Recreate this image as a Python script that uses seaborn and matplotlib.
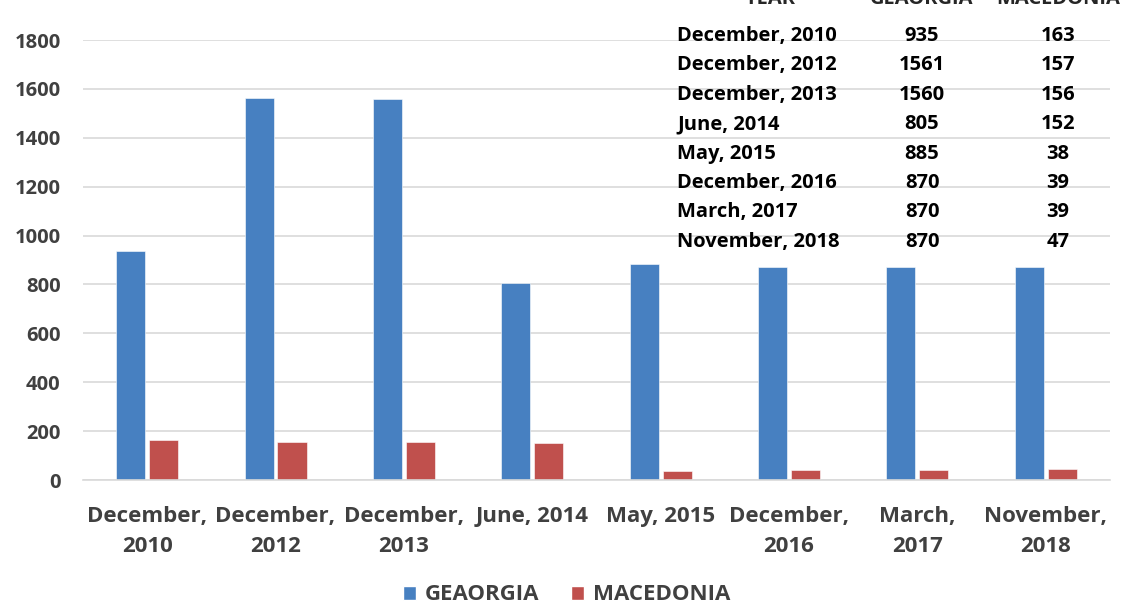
import numpy as np
import pandas as pd
import matplotlib.pyplot as plt
import seaborn as sns
from matplotlib.patches import Patch

# data
periods = ['December, 2010', 'December, 2012', 'December, 2013', 'June, 2014',
           'May, 2015', 'December, 2016', 'March, 2017', 'November, 2018']
tick_labels = ['December,\n2010', 'December,\n2012', 'December,\n2013', 'June, 2014',
               'May, 2015', 'December,\n2016', 'March,\n2017', 'November,\n2018']
georgia = [935, 1561, 1560, 805, 885, 870, 870, 870]
macedonia = [163, 157, 156, 152, 38, 39, 39, 47]
series = ['GEAORGIA', 'MACEDONIA']
colors = ['#4780C1', '#C0504D']

df = pd.DataFrame({'period': periods * 2,
                   'value': georgia + macedonia,
                   'country': [series[0]] * len(periods) + [series[1]] * len(periods)})

sns.set_style('white')
plt.rcParams['font.family'] = ['Open Sans', 'DejaVu Sans']
plt.rcParams['font.weight'] = 'bold'

fig = plt.figure(figsize=(11.24, 6.08), dpi=100)
ax = fig.add_axes([0.0738, 0.2105, 0.9137, 0.7237])

sns.barplot(df, x='period', y='value', hue='country', palette=colors,
            width=0.514, gap=0.12, ax=ax, legend=False, saturation=1,
            edgecolor='white', linewidth=0.4)

ax.set_ylim(0, 1800)
ax.set_yticks(range(0, 1801, 200))
ax.set_xlim(-0.5, len(periods) - 0.5)
ax.grid(axis='y', color='#D9D9D9', linewidth=1.2)
ax.set_axisbelow(True)
for s in ['top', 'right', 'left']:
    ax.spines[s].set_visible(False)
ax.spines['bottom'].set_color('#D9D9D9')
ax.spines['bottom'].set_linewidth(1.2)
ax.tick_params(axis='both', length=0, colors='#404040')
ax.tick_params(axis='y', pad=16, labelsize=14.5)
ax.tick_params(axis='x', pad=19, labelsize=16)
ax.set_xticks(range(len(periods)))
ax.set_xticklabels(tick_labels, linespacing=1.55, va='top')
for t in ax.get_xticklabels() + ax.get_yticklabels():
    t.set_fontweight('bold')
ax.set_xlabel('')
ax.set_ylabel('')

# data table in the top right (header row is cut by the top edge, as in the source)
W, H = 1124, 608
fs_tab = 14.5
fig.text(770 / W, 1 + 1 / H, 'YEAR', ha='center', va='center', fontsize=fs_tab, fontweight='bold')
fig.text(922 / W, 1 + 1 / H, series[0], ha='center', va='center', fontsize=fs_tab, fontweight='bold')
fig.text(1058 / W, 1 + 1 / H, series[1], ha='center', va='center', fontsize=fs_tab, fontweight='bold')
for i, (p, g, m) in enumerate(zip(periods, georgia, macedonia)):
    y = 1 - (36 + i * 29.4) / H
    fig.text(677 / W, y, p, ha='left', va='center', fontsize=fs_tab, fontweight='bold', color='black')
    fig.text(922 / W, y, str(g), ha='center', va='center', fontsize=fs_tab, fontweight='bold', color='black')
    fig.text(1058 / W, y, str(m), ha='center', va='center', fontsize=fs_tab, fontweight='bold', color='black')

handles = [Patch(facecolor=c, label=s) for c, s in zip(colors, series)]
leg = fig.legend(handles=handles, loc='center', bbox_to_anchor=(0.504, 1 - 595 / H),
                 ncol=2, frameon=False, fontsize=16, handlelength=0.6, handleheight=0.6,
                 handletextpad=0.4, columnspacing=1.4)
for t in leg.get_texts():
    t.set_color('#404040')
    t.set_fontweight('bold')

fig.savefig('out.png', dpi=100)
